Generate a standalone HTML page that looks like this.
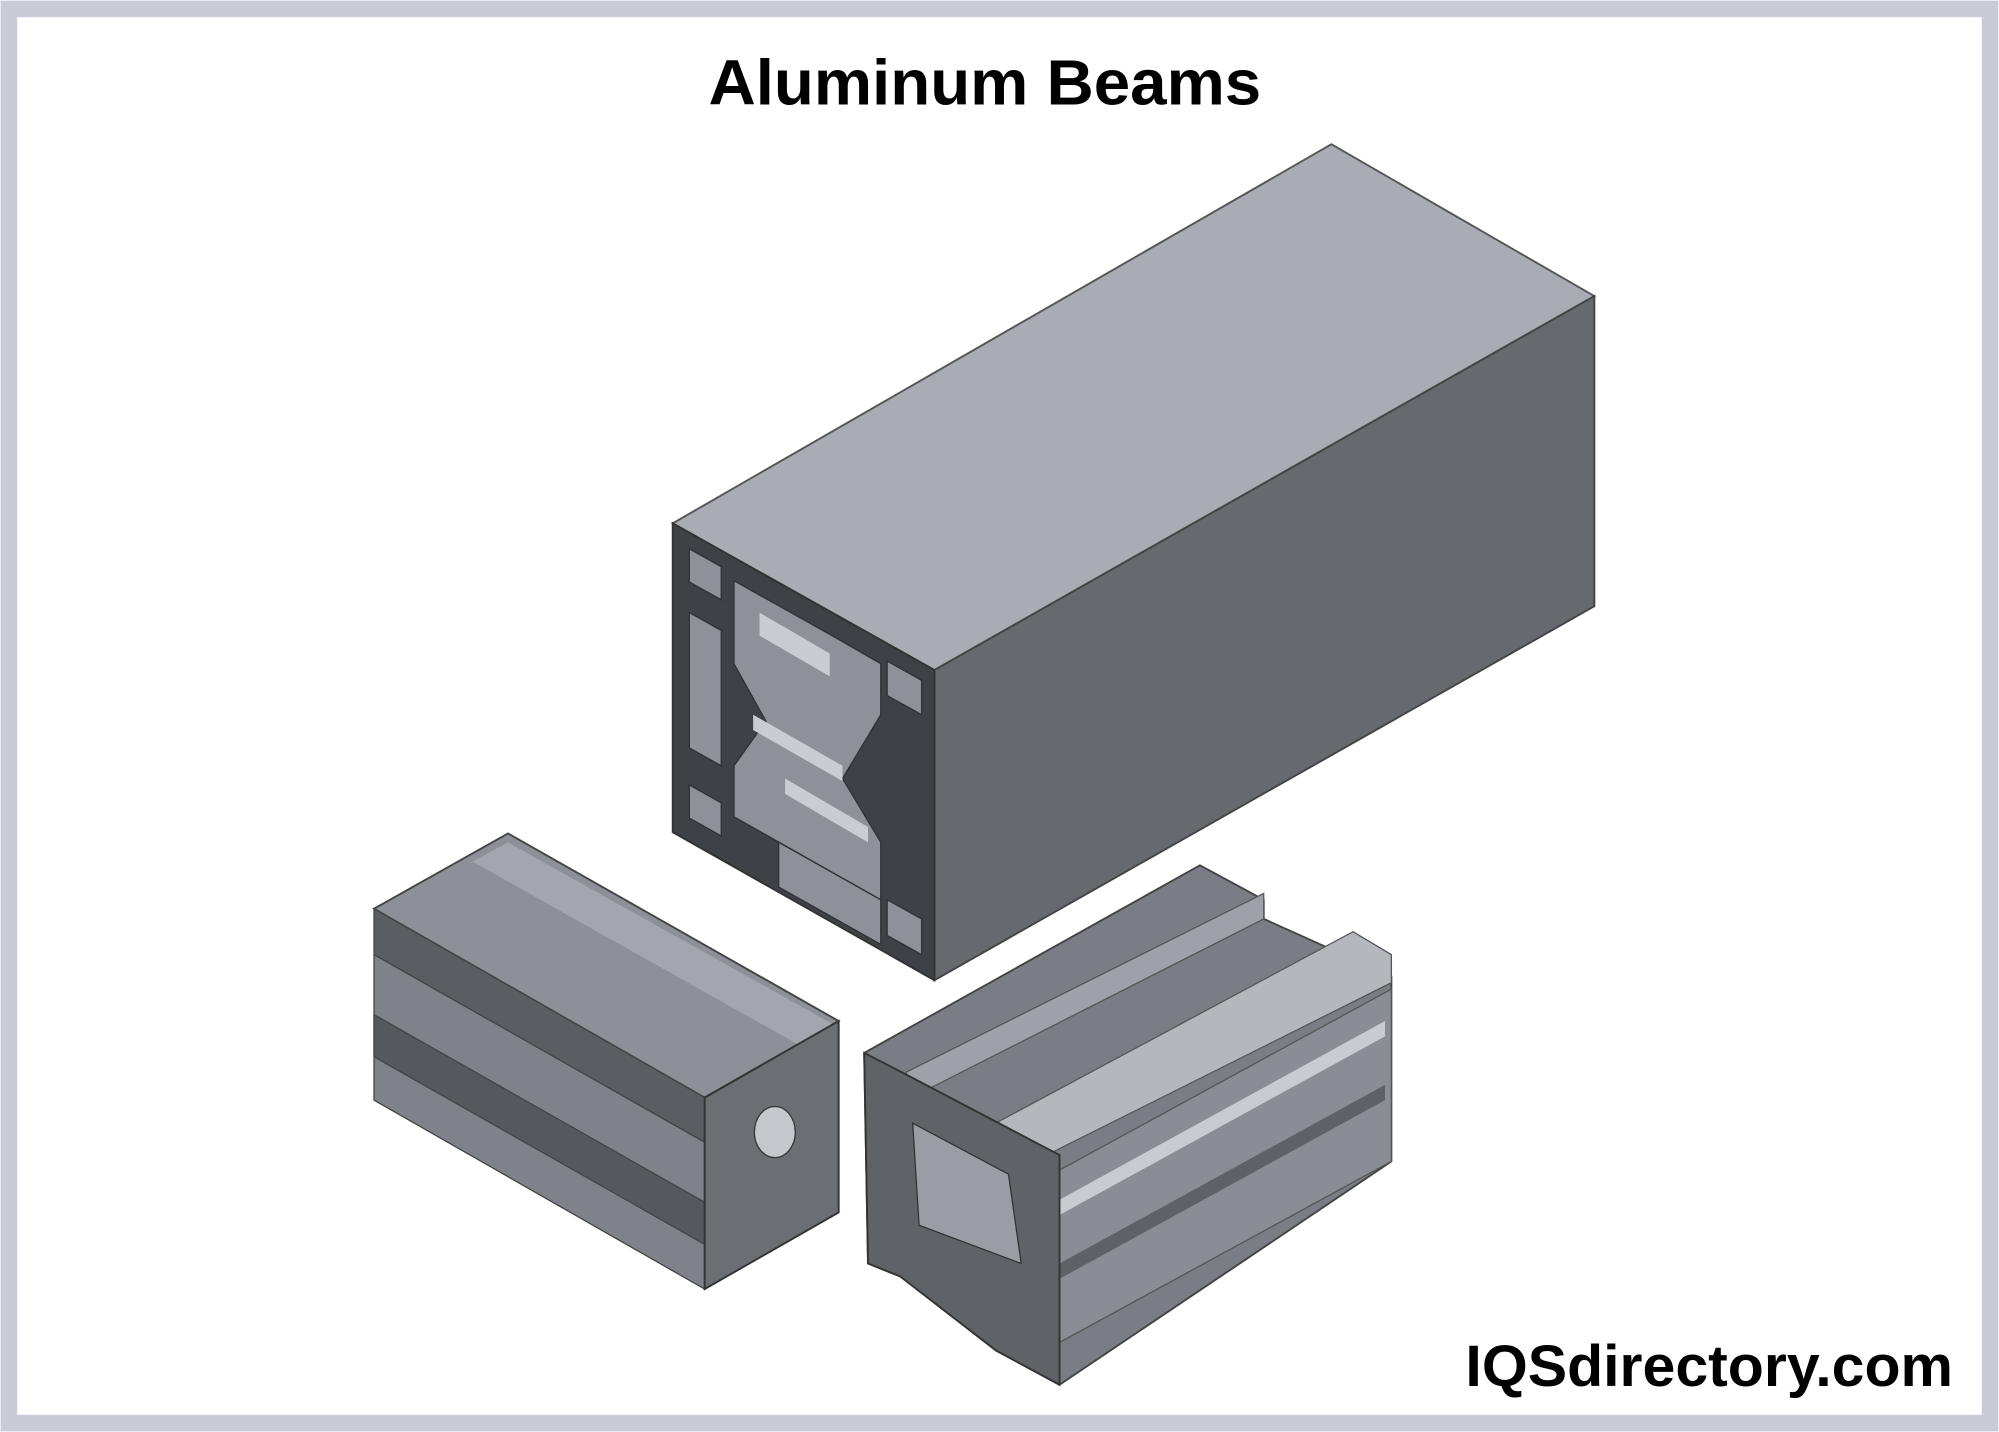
<!DOCTYPE html>
<html><head><meta charset="utf-8"><style>
html,body{margin:0;padding:0;background:#fff}
svg{display:block}
</style></head><body>
<svg width="1999" height="1432" viewBox="0 0 1566 1122" preserveAspectRatio="none" xmlns="http://www.w3.org/2000/svg">
<rect x="0" y="0" width="1566" height="1122" fill="#fff"/>
<rect x="7" y="7" width="1552" height="1108" fill="none" stroke="#c9ccd4" stroke-width="13"/>
<text x="555" y="82" textLength="433" lengthAdjust="spacingAndGlyphs" font-family="Liberation Sans, sans-serif" font-weight="bold" font-size="50" fill="#000">Aluminum Beams</text>

<!-- big beam -->
<polygon points="527,410 1043,113 1249,232 732,525" fill="#a9acb2" stroke="#555" stroke-width="1.5"/>
<polygon points="732,525 1249,232 1249,475 732,768" fill="#66696e" stroke="#444" stroke-width="1.5"/>
<polygon points="527,410 732,525 732,768 527,652" fill="#3e4146" stroke="#333" stroke-width="1.5"/>
<g fill="#8e9298" stroke="#2e3034" stroke-width="1">
<polygon points="540,430 565,444 565,470 540,456"/>
<polygon points="695,518 722,533 722,560 695,545"/>
<polygon points="540,615 565,629 565,655 540,641"/>
<polygon points="695,705 722,720 722,748 695,733"/>
<polygon points="575,455 650,497 690,520 690,560 660,610 690,660 690,705 575,640 575,600 600,565 575,520"/>
<polygon points="540,480 565,494 565,600 540,586"/>
<polygon points="610,660 690,705 690,740 610,695"/>
</g>
<g fill="#c9ccd1" stroke="none">
<polygon points="595,480 650,512 650,530 595,498"/>
<polygon points="590,560 660,600 660,612 590,572"/>
<polygon points="615,610 680,648 680,660 615,622"/>
</g>

<!-- left small beam -->
<polygon points="293,712 398,653 657,800 552,860" fill="#8d9096" stroke="#444" stroke-width="1.5"/>
<polygon points="293,712 552,860 552,895 293,748" fill="#5a5d62" stroke="#444" stroke-width="1"/>
<polygon points="293,748 552,895 552,1010 293,862" fill="#7f8288" stroke="#444" stroke-width="1"/>
<polygon points="293,795 552,942 552,975 293,828" fill="#55585d" stroke="#444" stroke-width="1"/>
<polygon points="370,675 398,660 657,805 628,820" fill="#a3a6ac"/>
<polygon points="552,860 657,800 657,950 552,1010" fill="#6b6e73" stroke="#333" stroke-width="1.5"/>
<ellipse cx="607" cy="887" rx="16" ry="20" fill="#c4c7cc" stroke="#333"/>

<!-- right beam -->
<polygon points="677,825 940,678 990,705 990,720 1090,765 1090,910 830,1085 780,1058 780,1040 705,1000 680,990" fill="#7a7d83" stroke="#444" stroke-width="1.5"/>
<polygon points="710,840 990,700 990,720 710,862" fill="#9ea1a7" stroke="#555" stroke-width="1"/>
<polygon points="780,880 1060,730 1090,748 1090,770 810,910" fill="#b4b7bc" stroke="#555" stroke-width="1"/>
<polygon points="815,925 1090,775 1090,910 815,1060" fill="#8a8d93" stroke="#555" stroke-width="1"/>
<polygon points="830,940 1085,800 1085,812 830,952" fill="#c8cbd0"/>
<polygon points="830,990 1085,850 1085,862 830,1002" fill="#5e6166"/>
<polygon points="677,825 710,842 830,905 830,1085 780,1058 705,1000 680,990" fill="#5f6267" stroke="#333" stroke-width="1.5"/>
<polygon points="715,880 790,920 800,990 720,960" fill="#9a9da3" stroke="#333"/>

<text x="1148" y="1086" textLength="382" lengthAdjust="spacingAndGlyphs" font-family="Liberation Sans, sans-serif" font-weight="bold" font-size="46" fill="#000">IQSdirectory.com</text>
</svg>
</body></html>
